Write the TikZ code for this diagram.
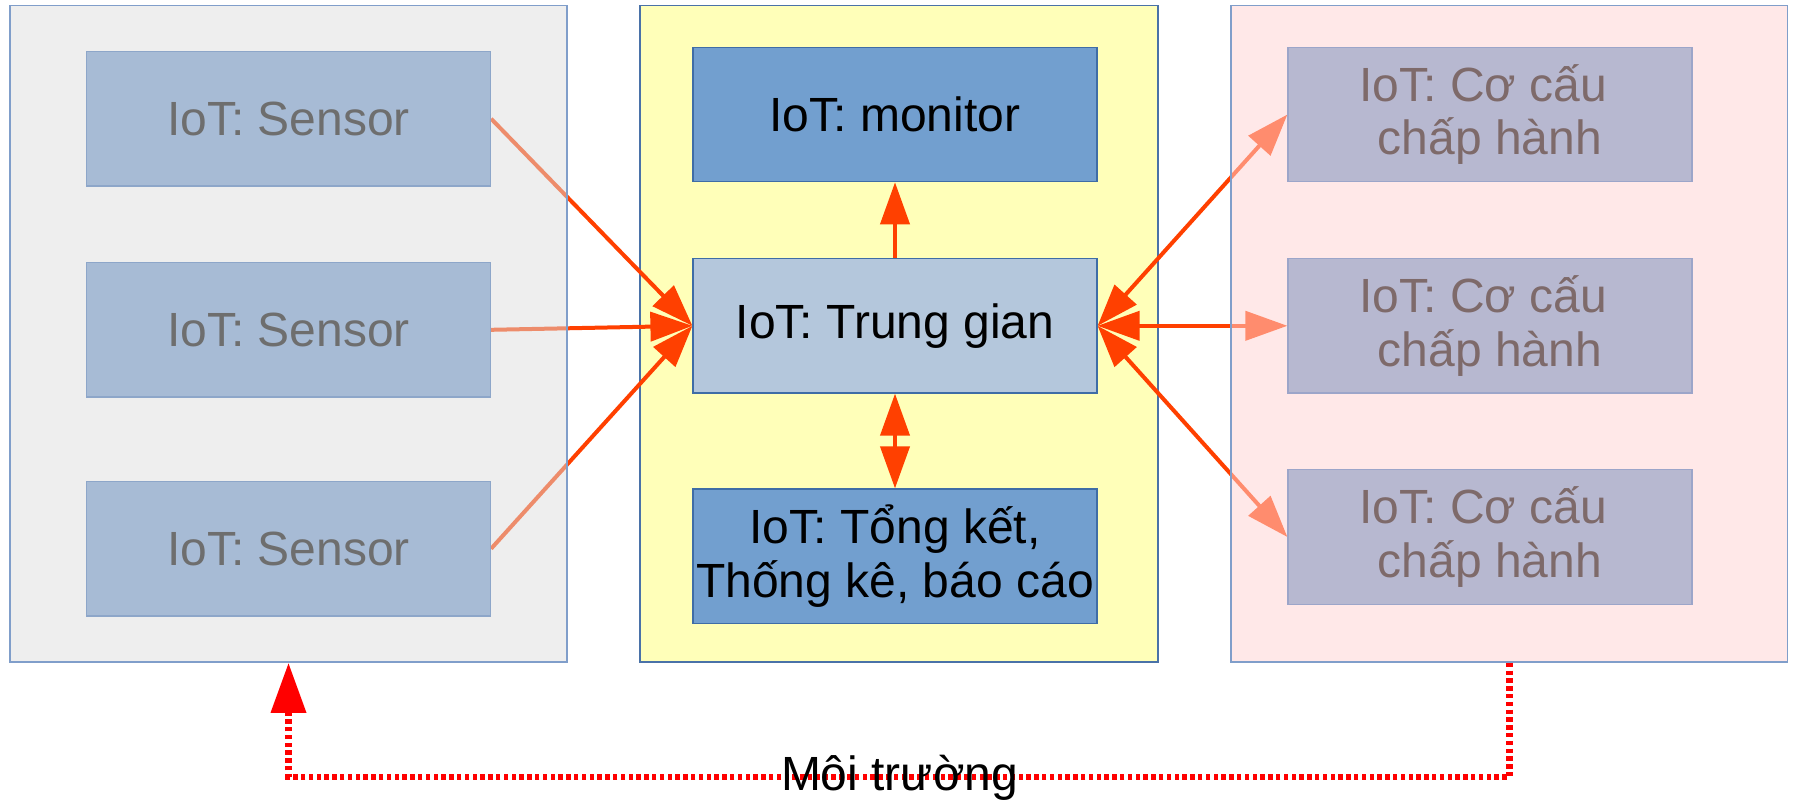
\documentclass[tikz,border=0pt]{standalone}
\usepackage{fontspec}
\setmainfont{Liberation Sans}
\usetikzlibrary{arrows.meta}

\pgfdeclarelayer{bg}
\pgfdeclarelayer{links}
\pgfdeclarelayer{veil}
\pgfsetlayers{bg,links,veil,main}

\definecolor{linkc}{HTML}{FF4000}
\definecolor{envc}{HTML}{FF0000}
\definecolor{grayveil}{HTML}{DCDCDC}
\definecolor{pinkveil}{HTML}{FFD3D3}
\definecolor{yellowpanel}{HTML}{FFFFB9}
\definecolor{panelline}{HTML}{4A72A8}
\definecolor{panellinelight}{HTML}{809ECA}
\definecolor{sensorfill}{HTML}{A7BBD5}
\definecolor{sensorline}{HTML}{8DA6C9}
\definecolor{sensortext}{HTML}{6E6E6E}
\definecolor{darkfill}{HTML}{729FCF}
\definecolor{midfill}{HTML}{B4C7DC}
\definecolor{boxline}{HTML}{3F6DA6}
\definecolor{actfill}{HTML}{B7B8D0}
\definecolor{actline}{HTML}{9CA5C9}
\definecolor{acttext}{HTML}{7E6A6A}

\tikzset{
  box/.style={rectangle, inner sep=0pt, minimum width=202pt, minimum height=67.2pt,
    align=center, line width=0.6pt, font=\fontsize{24pt}{26.8pt}\selectfont},
  sensorbox/.style={box, fill=sensorfill, draw=sensorline, text=sensortext},
  corebox/.style={box, fill=darkfill, draw=boxline, text=black},
  hubbox/.style={box, fill=midfill, draw=boxline, text=black},
  actbox/.style={box, fill=actfill, draw=actline, text=acttext},
  panel/.style={rectangle, inner sep=0pt, minimum height=328.3pt, line width=0.7pt},
  link/.style={draw=linkc, line width=2pt},
  envlink/.style={draw=envc, line width=3.4pt, dash pattern=on 2.2pt off 1.7pt},
  >={Triangle[length=21pt,width=14.5pt]}
}

\begin{document}
\begin{tikzpicture}[x=0.5pt,y=-0.5pt]
\useasboundingbox (0,0) rectangle (1793,799);

% inner boxes
\node[sensorbox] (s1) at (288.5,118.7) {IoT: Sensor};
\node[sensorbox] (s2) at (288.5,329.8) {IoT: Sensor};
\node[sensorbox] (s3) at (288.5,548.7) {IoT: Sensor};

\node[corebox] (mon) at (895,114.5) {IoT: monitor};
\node[hubbox]  (hub) at (895,325.8) {IoT: Trung gian};
\node[corebox] (rep) at (895,556.2) {IoT: Tổng kết,\\Thống kê, báo cáo};

\node[actbox] (a1) at (1490,114.5) {IoT: Cơ cấu\kern0.28em\\chấp hành};
\node[actbox] (a2) at (1490,325.8) {IoT: Cơ cấu\kern0.28em\\chấp hành};
\node[actbox] (a3) at (1490,537.0) {IoT: Cơ cấu\kern0.28em\\chấp hành};

% middle group panel, behind everything
\begin{pgfonlayer}{bg}
  \node[panel, minimum width=259pt, fill=yellowpanel, draw=panelline] (pM) at (899,333.8) {};
\end{pgfonlayer}

% data links
\begin{pgfonlayer}{links}
  \draw[link, ->] (s1.east) -- (hub.west);
  \draw[link, ->] (s2.east) -- (hub.west);
  \draw[link, ->] (s3.east) -- (hub.west);
  \draw[link, ->] (hub.north) -- (mon.south);
  \draw[link, <->] (hub.south) -- (rep.north);
  \draw[link, <->] (hub.east) -- (a1.west);
  \draw[link, <->] (hub.east) -- (a2.west);
  \draw[link, <->] (hub.east) -- (a3.west);
\end{pgfonlayer}

% translucent side panels, over the links
\begin{pgfonlayer}{veil}
  \node[panel, minimum width=278.5pt, fill=grayveil, fill opacity=0.49, draw=panellinelight] (pL) at (288.5,333.8) {};
  \node[panel, minimum width=278.3pt, fill=pinkveil, fill opacity=0.52, draw=panellinelight] (pR) at (1509.3,333.8) {};
\end{pgfonlayer}

% environment feedback loop
\coordinate (envrow) at (899,777);
\draw[envlink, -{Triangle[length=25pt,width=17pt]}]
  (pR.south) |- (pL.south |- envrow) -- (pL.south);
\node[anchor=base, font=\fontsize{24pt}{26.8pt}\selectfont] (env) at (899.5,790) {Môi trường};

\end{tikzpicture}
\end{document}
